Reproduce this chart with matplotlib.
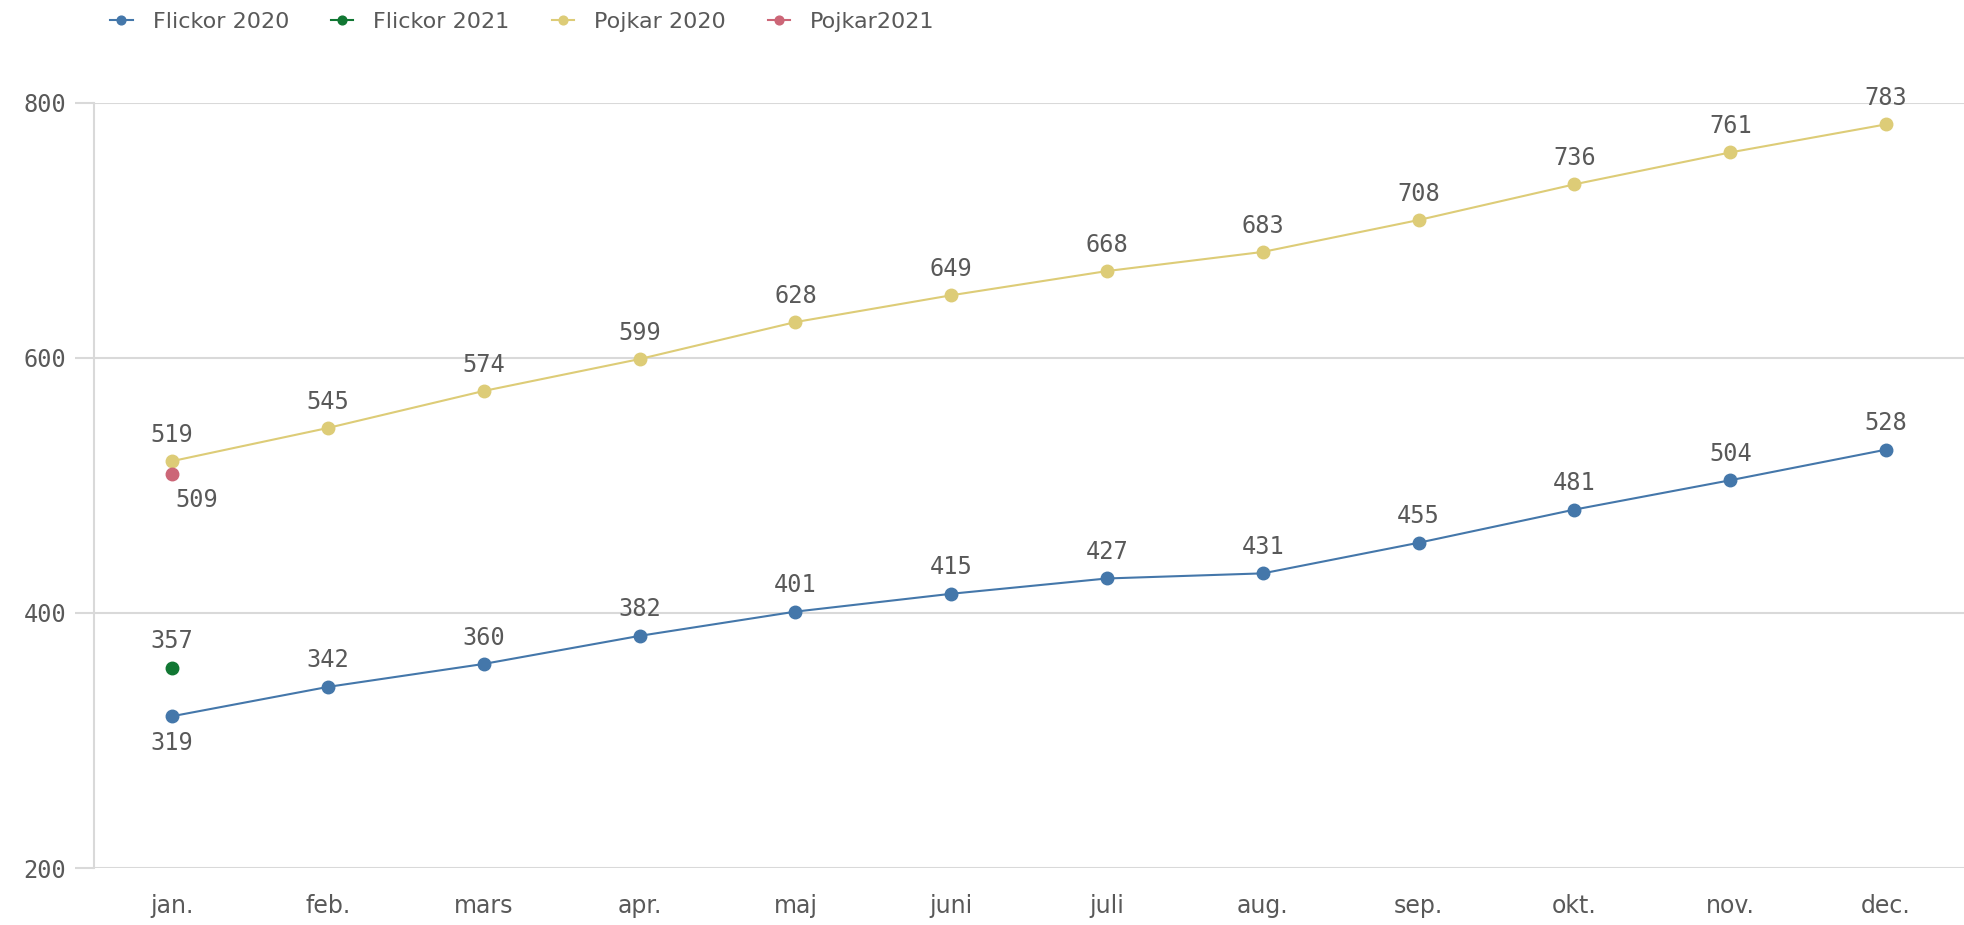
"""Monthly line chart: Flickor / Pojkar 2020 with January 2021 points."""

import matplotlib.pyplot as plt

months = ["jan.", "feb.", "mars", "apr.", "maj", "juni", "juli",
          "aug.", "sep.", "okt.", "nov.", "dec."]
flickor_2020 = [319, 342, 360, 382, 401, 415, 427, 431, 455, 481, 504, 528]
pojkar_2020 = [519, 545, 574, 599, 628, 649, 668, 683, 708, 736, 761, 783]
flickor_2021 = [357]
pojkar_2021 = [509]

BLUE = "#4477aa"
GREEN = "#117733"
YELLOW = "#ddcc77"
RED = "#cc6677"
TEXT = "#595959"
GRID = "#d9d9d9"
MONO = "DejaVu Sans Mono"


def main() -> None:
    fig = plt.figure(figsize=(19.64, 9.25), dpi=100)
    ax = fig.add_axes([0.048, 0.0616, 0.952, 0.8274])

    x = list(range(len(months)))
    ax.plot(x, flickor_2020, color=BLUE, lw=1.5, marker="o", ms=9,
            label="Flickor 2020", zorder=3)
    ax.plot(x[:1], flickor_2021, color=GREEN, lw=1.5, marker="o", ms=9,
            label="Flickor 2021", zorder=3)
    ax.plot(x, pojkar_2020, color=YELLOW, lw=1.5, marker="o", ms=9,
            label="Pojkar 2020", zorder=3)
    ax.plot(x[:1], pojkar_2021, color=RED, lw=1.5, marker="o", ms=9,
            label="Pojkar2021", zorder=3)

    # data labels
    lab = dict(textcoords="offset points", ha="center", va="center",
               fontsize=17, color=TEXT, family=MONO)
    for i, v in enumerate(pojkar_2020):
        ax.annotate(str(v), (i, v), xytext=(0, 19), **lab)
    for i, v in enumerate(flickor_2020):
        off = -19 if i == 0 else 19
        ax.annotate(str(v), (i, v), xytext=(0, off), **lab)
    ax.annotate(str(flickor_2021[0]), (0, flickor_2021[0]), xytext=(0, 19), **lab)
    ax.annotate(str(pojkar_2021[0]), (0, pojkar_2021[0]), xytext=(18, -19), **lab)

    ax.set_xlim(-0.5, len(months) - 0.5)
    ax.set_ylim(200, 800)
    ax.set_yticks([200, 400, 600, 800])
    ax.set_xticks(x)
    ax.set_xticklabels(months, fontsize=17, color=TEXT)
    ax.set_yticklabels(["200", "400", "600", "800"], fontsize=17,
                       color=TEXT, family=MONO)

    ax.grid(axis="y", color=GRID, lw=1.5)
    ax.set_axisbelow(True)
    for s in ["top", "right", "bottom"]:
        ax.spines[s].set_visible(False)
    ax.spines["left"].set_color(GRID)
    ax.spines["left"].set_linewidth(1.5)
    ax.tick_params(axis="y", length=14, width=1.5, color=GRID, pad=6)
    ax.tick_params(axis="x", length=0, pad=19)

    fig.legend(loc="upper left", bbox_to_anchor=(0.046, 1.009), ncol=4,
               frameon=False, fontsize=16, labelcolor=TEXT,
               handlelength=1.0, handletextpad=0.9, columnspacing=1.9,
               markerscale=0.7)

    fig.savefig("out.png", dpi=100)
    plt.close(fig)


if __name__ == "__main__":
    main()
